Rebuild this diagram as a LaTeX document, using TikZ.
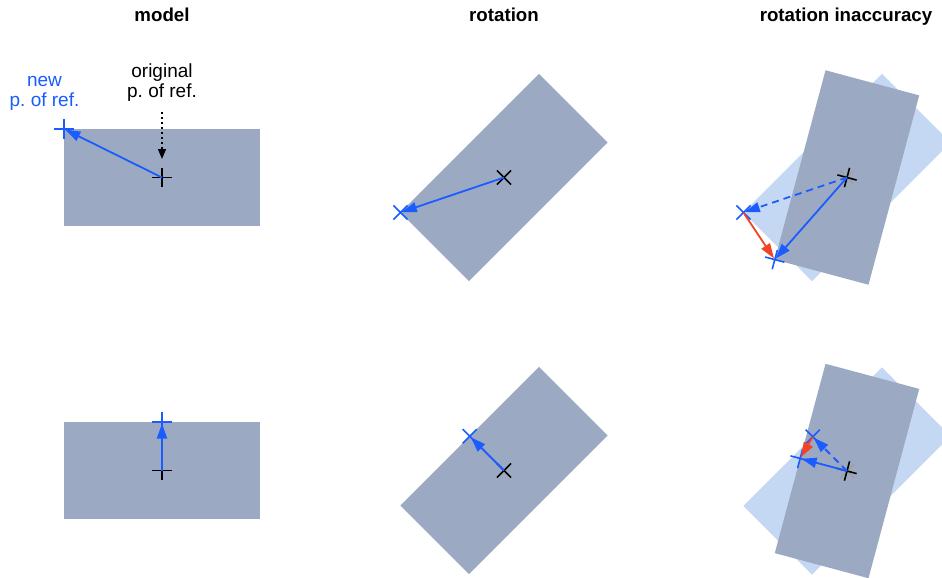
\documentclass[tikz,border=0pt]{standalone}
\usepackage{fontspec}
\setmainfont{Liberation Sans}
\usetikzlibrary{shapes.misc,arrows.meta}
\definecolor{rectdark}{HTML}{9BAAC2}
\definecolor{rectlight}{HTML}{C5D8F3}
\definecolor{ptblue}{HTML}{1A5CFF}
\definecolor{errred}{HTML}{F04328}
\definecolor{ghostgray}{HTML}{A0A0A0}
\frenchspacing
\begin{document}
\begin{tikzpicture}[x=1pt,y=-1pt,
  body/.style={fill=rectdark, draw=none, minimum width=196pt, minimum height=97pt, inner sep=0pt, outer sep=0pt},
  ghost/.style={fill=rectlight, draw=none, minimum width=196pt, minimum height=97pt, inner sep=0pt, outer sep=0pt},
  ptmark/.style={cross out, draw, line width=1.6pt, minimum size=14.1pt, inner sep=0pt, outer sep=0pt},
  titletext/.style={font=\bfseries\fontsize{18.7}{21}\selectfont, anchor=base, inner sep=0pt},
  labeltext/.style={font=\fontsize{19}{20}\selectfont, align=center, inner sep=0pt},
  vec/.style={ptblue, line width=1.8pt, -{Triangle[length=15pt,width=10pt]}, shorten >=1.5pt},
  vecdash/.style={vec, dash pattern=on 7pt off 5pt},
  err/.style={errred, line width=1.8pt, -{Triangle[length=15pt,width=10pt]}, shorten >=1.5pt}
]
\useasboundingbox (0,0) rectangle (942,578);

% titles
\node[titletext] (t1) at (162,22) {model};
\node[titletext] (t2) at (504,22) {rotation};
\node[titletext] (t3) at (846,22) {rotation inaccuracy};

% ---------- model, top ----------
\node[body] (m1) at (162,177.5) {};
\node[ptmark, rotate=45] (m1c) at (m1.center) {};
\node[ptmark, ptblue, rotate=45] (m1p) at (m1.north west) {};
\draw[vec] (m1c.center) -- (m1p.center);
\node[labeltext, ptblue] (newlbl) at (44.5,93) {new\\p. of ref.};
\node[labeltext] (origlbl) at (162,83) {original\\p. of ref.};
\coordinate (ds) at (162,112);
\coordinate (de) at (162,159);
\draw[line width=1.4pt, dash pattern=on 2pt off 3pt, -{Triangle[length=10pt,width=8pt]}] (ds) -- (de);

% ---------- model, bottom ----------
\node[body] (m2) at (162,470.5) {};
\node[ptmark, rotate=45] (m2c) at (m2.center) {};
\node[ptmark, ptblue, rotate=45] (m2p) at (m2.north) {};
\draw[vec] (m2c.center) -- (m2p.center);

% ---------- rotation, top ----------
\node[body, rotate=45] (r1) at (504,177.5) {};
\node[ptmark, rotate=90] (r1c) at (r1.center) {};
\node[ptmark, ptblue, rotate=90] (r1p) at (r1.north west) {};
\draw[vec] (r1c.center) -- (r1p.center);

% ---------- rotation, bottom ----------
\node[body, rotate=45] (r2) at (504,470.5) {};
\node[ptmark, rotate=90] (r2c) at (r2.center) {};
\node[ptmark, ptblue, rotate=90] (r2p) at (r2.north) {};
\draw[vec] (r2c.center) -- (r2p.center);

% ---------- inaccuracy, top ----------
\node[ghost, rotate=45] (l1) at (847,177.5) {};
\node[body, rotate=75] (d1) at (847,177.5) {};
\node[ptmark, ghostgray, rotate=90] (l1c) at (l1.center) {};
\node[ptmark, rotate=120] (d1c) at (d1.center) {};
\node[ptmark, ptblue, rotate=90] (l1p) at (l1.north west) {};
\node[ptmark, ptblue, rotate=120] (d1p) at (d1.north west) {};
\draw[vecdash] (d1c.center) -- (l1p.center);
\draw[vec] (d1c.center) -- (d1p.center);
\draw[err] (l1p.center) -- (d1p.center);

% ---------- inaccuracy, bottom ----------
\node[ghost, rotate=45] (l2) at (847,471) {};
\node[body, rotate=75] (d2) at (847,471) {};
\node[ptmark, ghostgray, rotate=90] (l2c) at (l2.center) {};
\node[ptmark, rotate=120] (d2c) at (d2.center) {};
\node[ptmark, ptblue, rotate=90] (l2p) at (l2.north) {};
\node[ptmark, ptblue, rotate=120] (d2p) at (d2.north) {};
\draw[vecdash] (d2c.center) -- (l2p.center);
\draw[vec] (d2c.center) -- (d2p.center);
\draw[err] (l2p.center) -- (d2p.center);
\end{tikzpicture}
\end{document}
